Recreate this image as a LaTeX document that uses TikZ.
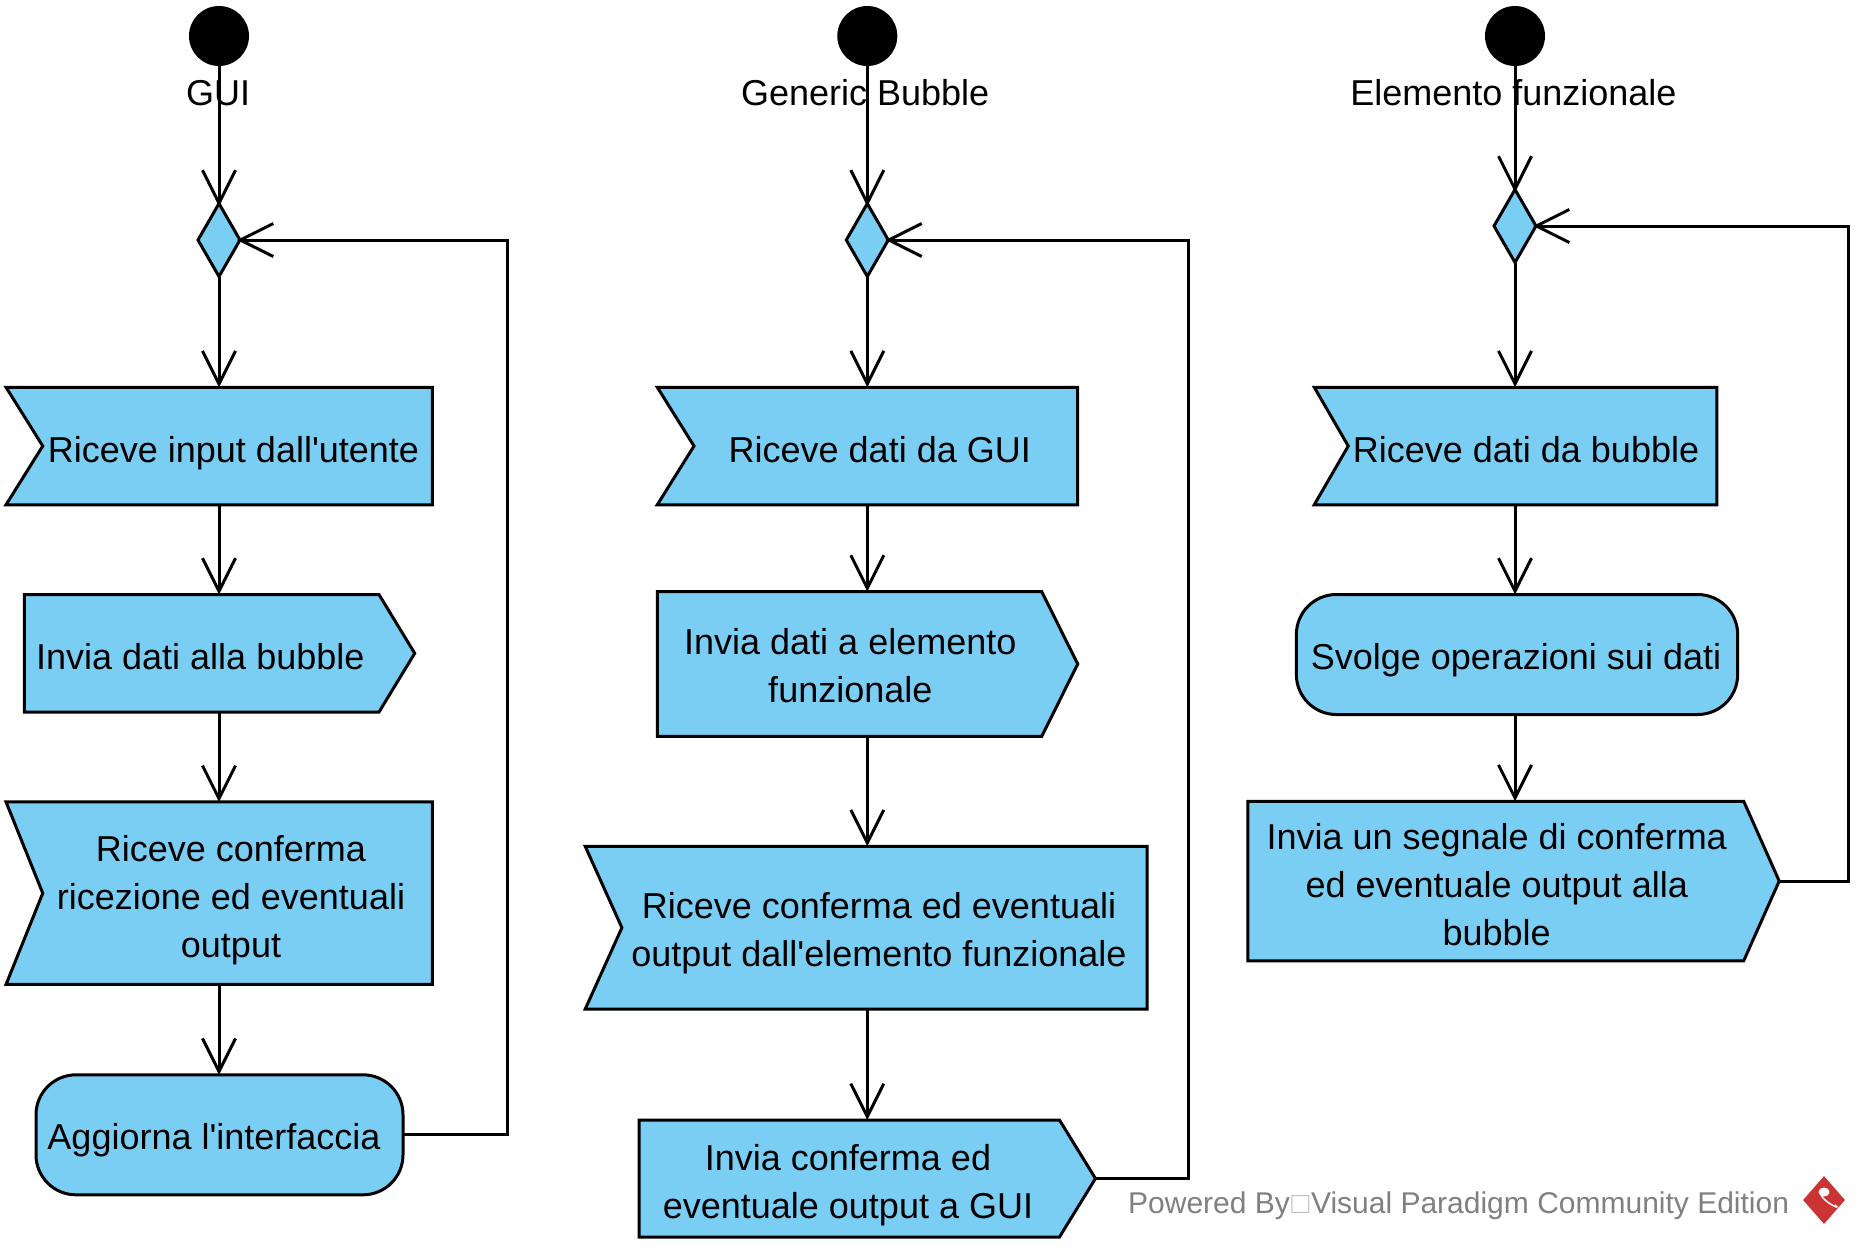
\documentclass[tikz,border=0pt]{standalone}
\usepackage{fontspec}
\setmainfont{Liberation Sans}
\usetikzlibrary{calc,arrows.meta,shapes.geometric}
\definecolor{actblue}{HTML}{7ACEF4}
\definecolor{logored}{HTML}{CC3333}
\tikzset{
    x=1pt,y=-1pt,
    flow/.style={draw,line width=3pt,fill=actblue,line join=miter},
    frame/.style={inner sep=0pt,outer sep=0pt},
    lbl/.style={inner sep=0pt,anchor=base,align=center,font=\fontsize{36}{47.8}\selectfont},
    start/.style={circle,fill=black,inner sep=0pt,minimum size=60pt},
    merge/.style={diamond,flow,inner sep=0pt,outer sep=0pt,minimum width=42pt,minimum height=73pt},
    roundbox/.style={flow,frame,rounded corners=40pt},
    toshape/.style={line width=3pt,-{Straight Barb[length=33pt,width=33pt,line width=3pt]}},
    edge/.style={toshape,shorten >=-3pt}
}
% #1 name, #2 cx, #3 cy, #4 width, #5 height, #6 notch, #7 text x, #8 text y, #9 text
\newcommand{\recvbox}[9]{
    \node[frame,minimum width=#4pt,minimum height=#5pt] (#1) at (#2,#3) {};
    \draw[flow] (#1.north west) -- (#1.north east) -- (#1.south east) -- (#1.south west) -- ($(#1.west)+(#6,0)$) -- cycle;
    \node[lbl] (#1t) at (#7,#8) {#9};
}
\newcommand{\sendbox}[9]{
    \node[frame,minimum width=#4pt,minimum height=#5pt] (#1) at (#2,#3) {};
    \draw[flow] (#1.north west) -- ($(#1.north east)-(#6,0)$) -- (#1.east) -- ($(#1.south east)-(#6,0)$) -- (#1.south west) -- cycle;
    \node[lbl] (#1t) at (#7,#8) {#9};
}
\begin{document}
\begin{tikzpicture}
    \useasboundingbox (0,0) rectangle (1860,1251);
    % GUI
    \node[start] (guiS) at (219,36) {};
    \node[lbl] (guiL) at (218,105.5) {GUI};
    \node[merge] (guiM) at (219,240) {};
    \recvbox{guiA}{219.2}{446}{426.3}{117.5}{36.7}{233.5}{462}{Riceve input dall\textquotesingle utente}
    \sendbox{guiB}{219.5}{653.3}{390.4}{117.5}{35.7}{200.3}{669}{Invia dati alla bubble}
    \recvbox{guiC}{219.2}{893.2}{426.3}{182.5}{36.7}{231}{957}{Riceve conferma\\ricezione ed eventuali\\output}
    \node[roundbox,minimum width=367pt,minimum height=120pt] (guiD) at (219.5,1134.8) {};
    \node[lbl] (guiDt) at (214,1149.8) {Aggiorna l\textquotesingle interfaccia};
    \coordinate (guiR) at (507.7,700);
    \draw[edge] (guiS.south) -- (guiM.north);
    \draw[toshape] (guiM.south) -- (guiA.north -| guiM);
    \draw[toshape] (guiA.south -| guiM) -- (guiB.north -| guiM);
    \draw[toshape] (guiB.south -| guiM) -- (guiC.north -| guiM);
    \draw[toshape] (guiC.south -| guiM) -- (guiD.north -| guiM);
    \draw[edge] (guiD.east) -| (guiR) |- (guiM.east);
    % Generic Bubble
    \node[start] (busS) at (867.3,36) {};
    \node[lbl] (busL) at (865.2,105.5) {Generic Bubble};
    \node[merge] (busM) at (867.3,240) {};
    \recvbox{busA}{867.5}{446}{420.4}{117.5}{36.7}{879.8}{462}{Riceve dati da GUI}
    \sendbox{busB}{867.5}{664}{420.4}{144.8}{36}{850.3}{702}{Invia dati a elemento\\funzionale}
    \recvbox{busC}{866.2}{927.7}{562}{162.8}{36.7}{879}{966}{Riceve conferma ed eventuali\\output dall\textquotesingle elemento funzionale}
    \sendbox{busD}{867.3}{1178.5}{456.3}{117}{36}{848}{1218.7}{Invia conferma ed\\eventuale output a GUI}
    \coordinate (busR) at (1188.3,700);
    \draw[edge] (busS.south) -- (busM.north);
    \draw[toshape] (busM.south) -- (busA.north -| busM);
    \draw[toshape] (busA.south -| busM) -- (busB.north -| busM);
    \draw[toshape] (busB.south -| busM) -- (busC.north -| busM);
    \draw[toshape] (busC.south -| busM) -- (busD.north -| busM);
    \draw[edge] (busD.east) -| (busR) |- (busM.east);
    % Elemento funzionale
    \node[start] (eleS) at (1515,36) {};
    \node[lbl] (eleL) at (1513.4,105.5) {Elemento funzionale};
    \node[merge] (eleM) at (1515,226) {};
    \recvbox{eleA}{1515.5}{446}{402.5}{117.5}{34}{1526}{462}{Riceve dati da bubble}
    \node[roundbox,minimum width=441.3pt,minimum height=120pt] (eleB) at (1517,654.5) {};
    \node[lbl] (eleBt) at (1516,669) {Svolge operazioni sui dati};
    \sendbox{eleC}{1513.5}{881}{531.4}{159.5}{35.5}{1496.7}{945.5}{Invia un segnale di conferma\\ed eventuale output alla\\bubble}
    \coordinate (eleR) at (1848.6,600);
    \draw[edge] (eleS.south) -- (eleM.north);
    \draw[toshape] (eleM.south) -- (eleA.north -| eleM);
    \draw[toshape] (eleA.south -| eleM) -- (eleB.north -| eleM);
    \draw[toshape] (eleB.south -| eleM) -- (eleC.north -| eleM);
    \draw[edge] (eleC.east) -| (eleR) |- (eleM.east);
    % footer
    \node[inner sep=0pt,anchor=base west,font=\fontsize{30}{34}\selectfont,text=gray] (foot) at (1128,1213.5) {Powered By\kern1.5pt{\color{lightgray}□}\kern1.5pt Visual Paradigm Community Edition};
    \node[diamond,fill=logored,inner sep=0pt,minimum width=42pt,minimum height=48pt] (logo) at (1824,1200) {};
    \fill[white] ($(logo.center)+(0,-8)$) ellipse (5.5 and 4.5);
    \draw[white,line width=1.5pt] ($(logo.center)+(-3,-5)$) .. controls +(4,8) and +(8,6) .. +(14,10);
\end{tikzpicture}
\end{document}
